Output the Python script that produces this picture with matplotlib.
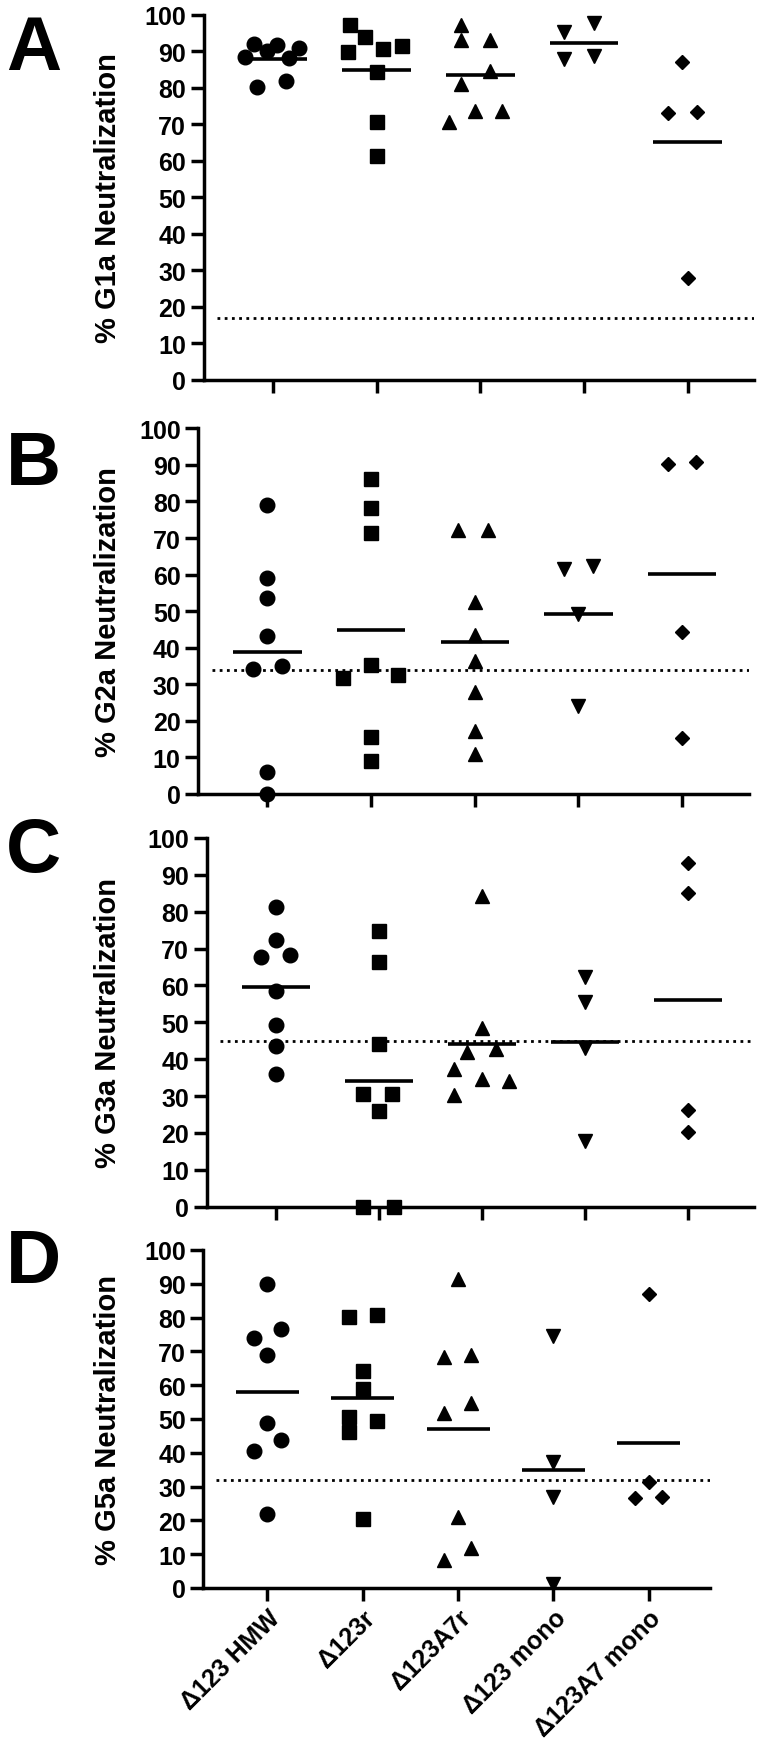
import numpy as np
import matplotlib
matplotlib.use("Agg")
import matplotlib.pyplot as plt

plt.rcParams['font.family'] = ['Liberation Sans', 'DejaVu Sans']
plt.rcParams['font.weight'] = 'bold'

groups = ['\u0394123 HMW', '\u0394123r', '\u0394123A7r', '\u0394123 mono', '\u0394123A7 mono']
markers = ['o', 's', '^', 'v', 'D']
msizes = [10.5, 10, 10.5, 10.5, 7.2]

# values, one list per group
g1a = [[91.9, 91.7, 90.1, 88.3, 88.0, 90.8, 80.1, 81.9],
       [97.2, 93.8, 89.8, 90.6, 91.3, 84.2, 70.7, 61.4],
       [97.1, 93.1, 93.1, 84.6, 81.0, 73.7, 73.7, 70.5],
       [95.1, 97.7, 87.8, 88.6],
       [86.9, 73.0, 73.2, 27.9]]
g2a = [[79.1, 59.0, 53.6, 43.3, 34.3, 35.1, 5.9, 0.0],
       [86.1, 78.1, 71.3, 35.4, 31.6, 32.5, 15.5, 8.9],
       [72.2, 72.2, 52.4, 43.5, 36.3, 28.0, 17.3, 10.9],
       [61.5, 62.4, 49.2, 24.2],
       [90.2, 90.9, 44.4, 15.2]]
g3a = [[81.2, 72.2, 67.7, 68.4, 58.4, 49.3, 43.7, 36.0],
       [74.7, 66.4, 44.2, 30.6, 30.6, 25.9, 0.0, 0.0],
       [84.3, 48.5, 41.9, 42.7, 37.3, 34.6, 34.1, 30.3],
       [62.4, 55.6, 43.0, 17.7],
       [93.1, 85.0, 26.3, 20.3]]
g5a = [[90.0, 76.7, 73.9, 69.0, 48.7, 43.9, 40.6, 21.9],
       [80.1, 80.9, 64.3, 58.9, 50.5, 49.5, 46.1, 20.4],
       [91.4, 68.2, 69.0, 54.7, 51.7, 20.9, 11.8, 8.4],
       [74.5, 37.2, 26.8, 1.2],
       [87.0, 31.4, 26.5, 26.8]]

# horizontal scatter offsets of the points (category units)
g1a_jit = [[-0.18, 0.04, -0.06, -0.27, 0.15, 0.25, -0.15, 0.13],
           [-0.26, -0.11, -0.28, 0.06, 0.24, 0.0, 0.0, 0.0],
           [-0.19, -0.19, 0.09, 0.09, -0.19, -0.05, 0.21, -0.30],
           [-0.19, 0.10, -0.19, 0.10],
           [-0.05, -0.19, 0.09, 0.0]]
g2a_jit = [[0, 0, 0, 0, -0.14, 0.14, 0, 0],
           [0, 0, 0, 0, -0.27, 0.26, 0, 0],
           [-0.16, 0.13, 0, 0, 0, 0, 0, 0],
           [-0.14, 0.14, 0, 0],
           [-0.14, 0.13, 0, 0]]
g3a_jit = [[0, 0, -0.14, 0.14, 0, 0, 0, 0],
           [0, 0, 0, -0.15, 0.13, 0, -0.15, 0.15],
           [0, 0, -0.14, 0.14, -0.27, 0, 0.27, -0.27],
           [0, 0, 0, 0],
           [0, 0, 0, 0]]
g5a_jit = [[0, 0.14, -0.14, 0, 0, 0.14, -0.14, 0],
           [-0.14, 0.15, 0, 0, -0.14, 0.15, -0.14, 0],
           [0, -0.15, 0.14, 0.14, -0.15, 0, 0.14, -0.15],
           [0, 0, 0, 0],
           [0, 0, -0.15, 0.14]]

cutoffs = [17, 34, 45, 32]
ylabels = ['% G1a Neutralization', '% G2a Neutralization',
           '% G3a Neutralization', '% G5a Neutralization']
letters = ['A', 'B', 'C', 'D']
panels = [g1a, g2a, g3a, g5a]
jitters = [g1a_jit, g2a_jit, g3a_jit, g5a_jit]

W, H = 760, 1749
fig = plt.figure(figsize=(W / 100, H / 100), dpi=100)

# axes boxes in pixels: left, right, top(y=100), bottom(y=0)
boxes = [(203.5, 754, 15.5, 381),
         (198, 748.5, 429.3, 795),
         (206.6, 753.6, 839, 1207.7),
         (203.4, 709.9, 1251, 1589)]
letter_top = [15, 430, 817, 1228]

for i in range(4):
    l, r, t, b = boxes[i]
    ax = fig.add_axes([l / W, 1 - b / H, (r - l) / W, (b - t) / H])
    vals = panels[i]
    for j in range(5):
        x = j + np.array(jitters[i][j])
        ax.plot(x, vals[j], linestyle='none', marker=markers[j],
                markersize=msizes[j], color='black', clip_on=False, zorder=3)
        m = np.mean(vals[j])
        ax.plot([j - 0.33, j + 0.33], [m, m], color='black', lw=2.6,
                solid_capstyle='butt', zorder=2)
    ax.axhline(cutoffs[i], xmin=0.025, xmax=1, color='black', lw=2.0,
               linestyle=(0, (1, 1.6)), zorder=1)
    ax.set_xlim(-0.67, 4.64)
    ax.set_ylim(0, 100)
    ax.set_yticks(np.arange(0, 101, 10))
    ax.set_xticks(range(5))
    for s in ['top', 'right']:
        ax.spines[s].set_visible(False)
    for s in ['left', 'bottom']:
        ax.spines[s].set_linewidth(2.5)
    ax.tick_params(axis='both', length=9.5, width=2.5, labelsize=18, pad=3)
    for lab in ax.get_yticklabels():
        lab.set_fontweight('bold')
    if i == 3:
        ax.set_xticklabels(groups, rotation=45, ha='right', va='top',
                           rotation_mode='anchor', fontweight='bold')
    else:
        ax.set_xticklabels([])
    fig.text(108 / W, 1 - (t + b) / 2 / H, ylabels[i], rotation=90,
             ha='center', va='center', fontsize=21, fontweight='bold')
    fig.text(6 / W, 1 - letter_top[i] / H, letters[i], ha='left', va='top',
             fontsize=55, fontweight='bold')

fig.savefig('out.png', dpi=100)
